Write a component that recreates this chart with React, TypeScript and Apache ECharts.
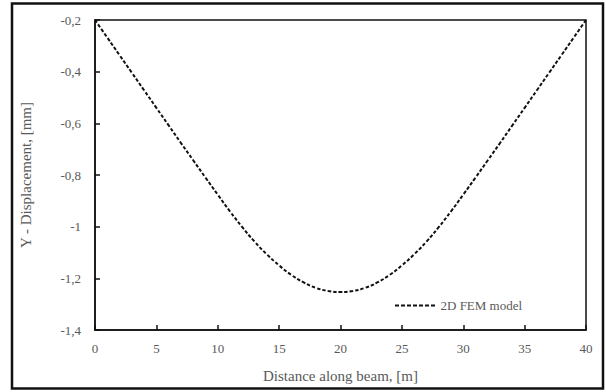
import React, { useEffect, useRef } from "react";
import * as echarts from "echarts";

const distances = [
  0, 1, 2, 3, 4, 5, 6, 7, 8, 9, 10, 11, 12, 13, 14, 15, 16, 17, 18, 19, 20,
  21, 22, 23, 24, 25, 26, 27, 28, 29, 30, 31, 32, 33, 34, 35, 36, 37, 38, 39, 40,
];
const femDisplacement = [
  -0.2, -0.268, -0.336, -0.404, -0.472, -0.54, -0.608, -0.676, -0.743, -0.81,
  -0.876, -0.941, -1.002, -1.058, -1.107, -1.15, -1.187, -1.216, -1.237, -1.249,
  -1.253,
  -1.249, -1.237, -1.216, -1.187, -1.15, -1.107, -1.058, -1.002, -0.941, -0.876,
  -0.81, -0.743, -0.676, -0.608, -0.54, -0.472, -0.404, -0.336, -0.268, -0.2,
];
const seriesName = "2D FEM model";
const xTitle = "Distance along beam, [m]";
const yTitle = "Y - Displacement, [mm]";

const dashIcon =
  "path://M0 0h4v2h-4z M6 0h4v2h-4z M12 0h4v2h-4z M18 0h4v2h-4z M24 0h4v2h-4z M30 0h4v2h-4z M36 0h4v2h-4z";

export default function App() {
  const ref = useRef<HTMLDivElement>(null);
  useEffect(() => {
    document.body.style.margin = "0";
    const chart = echarts.init(ref.current!, null, { renderer: "svg" });
    const font = "'Liberation Serif', 'Times New Roman', serif";
    chart.setOption({
      animation: false,
      backgroundColor: "#ffffff",
      textStyle: { fontFamily: font },
      graphic: [
        {
          type: "rect",
          shape: { x: 12, y: 3.5, width: 591, height: 385 },
          style: { fill: "none", stroke: "#111", lineWidth: 2.5 },
          silent: true,
        },
      ],
      grid: {
        left: 95,
        top: 20,
        right: 20,
        bottom: 62,
        show: true,
        borderColor: "#111",
        borderWidth: 1.5,
      },
      legend: {
        left: 390,
        top: 294,
        itemWidth: 41,
        itemHeight: 2,
        itemGap: 4,
        textStyle: { fontFamily: font, fontSize: 13, color: "#595959" },
        data: [{ name: seriesName, icon: dashIcon, itemStyle: { color: "#111" } }],
      },
      xAxis: {
        type: "value",
        min: 0,
        max: 40,
        interval: 5,
        name: xTitle,
        nameLocation: "middle",
        nameGap: 38,
        nameTextStyle: { fontFamily: font, fontSize: 15, color: "#595959" },
        axisLine: { show: true, lineStyle: { color: "#111", width: 1.5 } },
        axisTick: { show: true, inside: true, length: 5, lineStyle: { color: "#111", width: 1.5 } },
        axisLabel: { fontFamily: font, fontSize: 13, color: "#595959", margin: 12 },
        splitLine: { show: false },
      },
      yAxis: {
        type: "value",
        min: -1.4,
        max: -0.2,
        interval: 0.2,
        name: yTitle,
        nameLocation: "middle",
        nameGap: 62,
        nameTextStyle: { fontFamily: font, fontSize: 15, color: "#595959" },
        axisLine: { show: true, lineStyle: { color: "#111", width: 1.5 } },
        axisTick: { show: true, inside: true, length: 5, lineStyle: { color: "#111", width: 1.5 } },
        axisLabel: {
          fontFamily: font,
          fontSize: 13,
          color: "#595959",
          margin: 14,
          formatter: (v: number) => String(Math.round(v * 10) / 10).replace(".", ","),
        },
        splitLine: { show: false },
      },
      series: [
        {
          name: seriesName,
          type: "line",
          smooth: true,
          showSymbol: false,
          symbol: "none",
          data: distances.map((d, i) => [d, femDisplacement[i]]),
          lineStyle: { color: "#111", width: 2, type: [3.5, 2] },
          itemStyle: { color: "#111" },
        },
      ],
    });
    return () => chart.dispose();
  }, []);
  return <div ref={ref} style={{ width: 606, height: 392 }} />;
}
